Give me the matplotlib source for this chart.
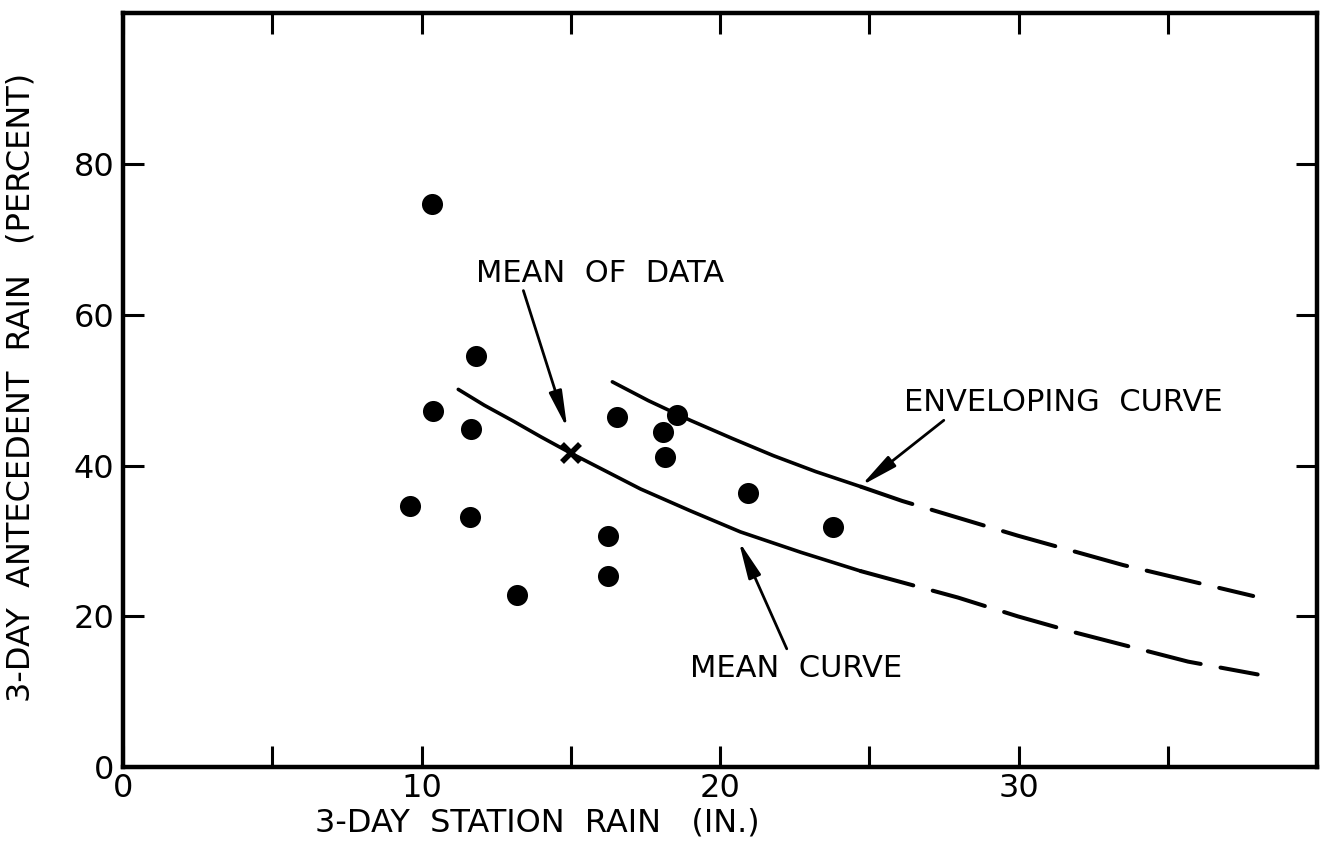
import matplotlib.pyplot as plt
from matplotlib.ticker import FixedLocator, FuncFormatter

# Observed storms: 3-day station rain (in.) vs 3-day antecedent rain (%)
station_rain = [10.36, 10.40, 9.62, 11.83, 11.65, 11.63, 13.20, 16.26, 16.24,
                16.55, 18.57, 18.10, 18.14, 20.93, 23.77]
antecedent_rain = [74.7, 47.3, 34.6, 54.5, 44.9, 33.2, 22.9, 30.7, 25.3,
                   46.4, 46.7, 44.5, 41.1, 36.4, 31.9]

# Mean of data
mean_x = [15.02]
mean_y = [41.6]

mean_solid_x = [11.23, 12.1, 13.07, 14.0, 15.02, 16.2, 17.33, 19.0, 20.68, 22.7, 24.71]
mean_solid_y = [50.1, 48.0, 45.9, 43.8, 41.6, 39.2, 36.9, 34.0, 31.2, 28.5, 26.0]
mean_dash_x = [24.71, 27.96, 29.97, 31.85, 35.67, 38.0]
mean_dash_y = [26.0, 22.5, 20.0, 17.9, 14.0, 12.3]

# Enveloping curve
env_solid_x = [16.39, 17.6, 19.0, 20.4, 21.79, 23.2, 24.71]
env_solid_y = [51.1, 48.6, 46.0, 43.6, 41.3, 39.2, 37.2]
env_dash_x = [24.71, 26.1, 29.97, 33.5, 37.85]
env_dash_y = [37.2, 35.3, 30.7, 26.8, 22.7]

x_ticks = [0, 5, 10, 15, 20, 25, 30, 35]
y_ticks = [0, 20, 40, 60, 80]

# labels: (text, text position, arrow tail, arrow head)
notes = [
    ('MEAN  OF  DATA', (15.99, 65.5), (13.41, 63.2), (14.88, 44.9)),
    ('ENVELOPING  CURVE', (31.48, 48.3), (27.49, 46.0), (24.71, 37.3)),
    ('MEAN  CURVE', (22.53, 13.1), (22.23, 15.7), (20.62, 30.0)),
]

plt.rcParams['font.family'] = ['DejaVu Sans']

fig = plt.figure(figsize=(13.22, 8.44), dpi=100)
ax = fig.add_axes([0.093, 0.091, 0.9035, 0.8935])

ax.set_xlim(0, 40)
ax.set_ylim(0, 100)

# curves
ax.plot(mean_solid_x, mean_solid_y, color='k', lw=2.6, solid_capstyle='round')
ax.plot(mean_dash_x, mean_dash_y, color='k', lw=2.9, dashes=(13.5, 5),
        dash_capstyle='round')
ax.plot(env_solid_x, env_solid_y, color='k', lw=2.6, solid_capstyle='round')
ax.plot(env_dash_x, env_dash_y, color='k', lw=2.9, dashes=(13.5, 5),
        dash_capstyle='round')

# data points
ax.scatter(station_rain, antecedent_rain, s=230, color='k', zorder=3,
           linewidths=0)
ax.plot(mean_x, mean_y, marker='x', color='k', markersize=13, mew=4,
        ls='none', zorder=4)

# annotations
arrow = dict(arrowstyle='-|>,head_width=0.14,head_length=0.8', color='k',
             lw=2.0, shrinkA=0, shrinkB=0, mutation_scale=28)
for label, txt_pos, tail, head in notes:
    ax.text(txt_pos[0], txt_pos[1], label, fontsize=22, ha='center',
            va='center')
    ax.annotate('', xy=head, xytext=tail, arrowprops=arrow)

# axes frame
for side in ['left', 'right', 'top', 'bottom']:
    ax.spines[side].set_linewidth(3.2)

ax.xaxis.set_major_locator(FixedLocator(x_ticks))
ax.yaxis.set_major_locator(FixedLocator(y_ticks))
ax.xaxis.set_major_formatter(FuncFormatter(lambda v, p: f'{v:.0f}' if v % 10 == 0 else ''))
ax.tick_params(axis='both', direction='in', length=15, width=2.2,
               top=True, right=True, labelsize=23, pad=6)
ax.tick_params(axis='x', pad=4)

ax.set_xlabel('3-DAY  STATION  RAIN   (IN.)', fontsize=23)
ax.xaxis.set_label_coords(0.347, -0.053)
ax.set_ylabel('3-DAY  ANTECEDENT  RAIN   (PERCENT)', fontsize=23)
ax.yaxis.set_label_coords(-0.072, 0.504)

fig.savefig('out.png', dpi=100)
